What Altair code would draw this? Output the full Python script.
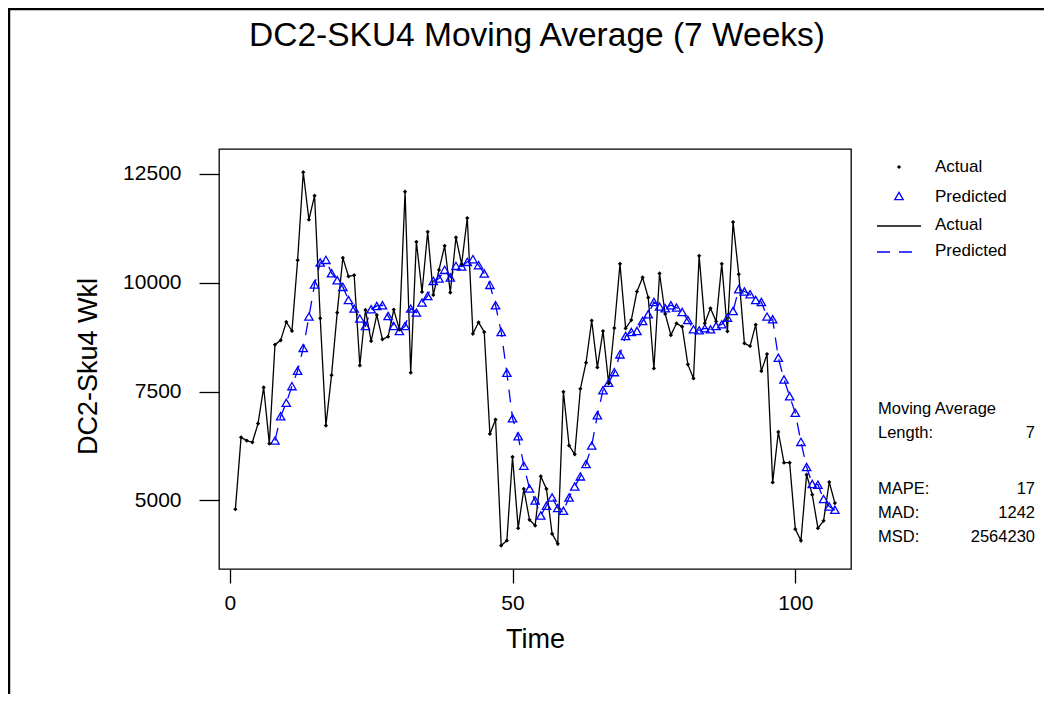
import altair as alt
import pandas as pd

FONT = "Liberation Sans"

# ---- data ----
time = list(range(1, 108))
actual = [
    4800, 6450, 6375, 6336, 6766, 7596, 6306, 8579, 8678, 9100,
    8893, 10520, 12540, 11449, 12001, 9185, 6720, 7879, 9316, 10573,
    10145, 10175, 8102, 9376, 8662, 9261, 8701, 8763, 9385, 8924,
    12093, 7934, 10942, 9790, 11172, 9721, 10297, 10850, 9776, 11043,
    10428, 11488, 8832, 9092, 8869, 6529, 6859, 3964, 4079, 5999,
    4364, 5263, 4556, 4424, 5553, 5263, 4233, 4003, 7496, 6260,
    6059, 7566, 8164, 9132, 8056, 8892, 7688, 8961, 10435, 8954,
    9145, 9800, 10122, 9661, 8033, 10214, 9284, 8800, 9069, 8993,
    8125, 7803, 10619, 9069, 9415, 9115, 10435, 8885, 11395, 10198,
    8609, 8547, 9039, 7971, 8362, 5415, 6575, 5868, 5868, 4341,
    4079, 5592, 5131, 4364, 4532, 5423, 4940,
]
pred_start = 8
predicted = [
    6375, 6934, 7243, 7626, 7980, 8501, 9224, 9961, 10467, 10527,
    10221, 10060, 9906, 9606, 9408, 9178, 9007, 9392, 9468, 9484,
    9237, 9007, 8892, 9007, 9408, 9316, 9546, 9698, 10044, 10099,
    10297, 10122, 10389, 10375, 10481, 10543, 10405, 10214, 9952, 9484,
    8869, 7934, 6888, 6474, 5799, 5276, 5000, 4655, 4878, 5069,
    4825, 4763, 5069, 5322, 5553, 5838, 6260, 6958, 7533, 7704,
    7948, 8356, 8777, 8869, 8892, 9123, 9277, 9560, 9454, 9415,
    9484, 9431, 9330, 9145, 8931, 8908, 8954, 8931, 9007, 9046,
    9200, 9353, 9852, 9800, 9737, 9606, 9560, 9224, 9162, 8279,
    7780, 7395, 7013, 6345, 5769, 5378, 5362, 5032, 4862, 4786,
]
x_ticks = [0, 50, 100]
y_ticks = [5000, 7500, 10000, 12500]
title_text = "DC2-SKU4 Moving Average (7 Weeks)"
x_title = "Time"
y_title = "DC2-Sku4 Wkl"
stats_labels = ["Length:", "MAPE:", "MAD:", "MSD:"]
stats_values = ["7", "17", "1242", "2564230"]

df_a = pd.DataFrame({"Time": time, "Value": actual})
df_p = pd.DataFrame({"Time": list(range(pred_start, pred_start + len(predicted))),
                     "Value": predicted})
one = pd.DataFrame({"k": [0]})

BLUE = "#0000FF"
xscale = alt.Scale(domain=[-1.9, 109.85], nice=False, zero=False)
yscale = alt.Scale(domain=[3425, 13074], nice=False, zero=False)

x_axis = alt.Axis(values=x_ticks, title=x_title, grid=False, domain=False, format="d",
                  tickSize=14, tickColor="black", tickWidth=1.3,
                  labelFont=FONT, labelFontSize=21, labelColor="black", labelPadding=9,
                  labelFlush=False,
                  titleFont=FONT, titleFontSize=27, titleFontWeight="normal",
                  titleColor="black", titleY=78, titleBaseline="alphabetic")
y_axis = alt.Axis(values=y_ticks, title=y_title, grid=False, domain=False, format="d",
                  tickSize=20, tickColor="black", tickWidth=1.3,
                  labelFont=FONT, labelFontSize=21, labelColor="black", labelPadding=18,
                  labelFlush=False,
                  titleFont=FONT, titleFontSize=27, titleFontWeight="normal",
                  titleColor="black", titleX=-123, titleY=217, titleAngle=270,
                  titleAlign="center", titleBaseline="alphabetic")

X = alt.X("Time:Q", scale=xscale, axis=x_axis)
Y = alt.Y("Value:Q", scale=yscale, axis=y_axis)

pred_line = alt.Chart(df_p).mark_line(color=BLUE, strokeWidth=1.3, strokeDash=[13, 9]).encode(x=X, y=Y)
pred_pts = alt.Chart(df_p).mark_point(shape="triangle-up", filled=False, color=BLUE,
                                      size=70, strokeWidth=1.3, opacity=1).encode(x=X, y=Y)
act_line = alt.Chart(df_a).mark_line(color="black", strokeWidth=1.3).encode(x=X, y=Y)
act_pts = alt.Chart(df_a).mark_point(shape="diamond", filled=True, color="black",
                                     size=18, opacity=1).encode(x=X, y=Y)

# ---- title, legend, statistics (pixel layout) ----
def txt(s, x, y, size=17, align="left"):
    return alt.Chart(one).mark_text(text=s, font=FONT, fontSize=size, align=align,
                                    baseline="middle", color="black").encode(
        x=alt.value(x), y=alt.value(y))

title = alt.Chart(one).mark_text(text=title_text, font=FONT, fontSize=33.5, align="center",
                                 baseline="alphabetic", color="black").encode(
    x=alt.value(318), y=alt.value(-103))

leg_dot = alt.Chart(one).mark_point(shape="diamond", filled=True, color="black", size=18,
                                    opacity=1).encode(x=alt.value(680), y=alt.value(18))
leg_tri = alt.Chart(one).mark_point(shape="triangle-up", filled=False, color=BLUE, size=70,
                                    strokeWidth=1.3, opacity=1).encode(x=alt.value(680), y=alt.value(47))
leg_solid = alt.Chart(one).mark_rule(color="black", strokeWidth=1.3).encode(
    x=alt.value(658), x2=alt.value(702), y=alt.value(77))
leg_dash = alt.Chart(one).mark_rule(color=BLUE, strokeWidth=1.3, strokeDash=[13, 9]).encode(
    x=alt.value(658), x2=alt.value(702), y=alt.value(103))
legend = [leg_dot, txt("Actual", 716, 18), leg_tri, txt("Predicted", 716, 48),
          leg_solid, txt("Actual", 716, 76), leg_dash, txt("Predicted", 716, 102)]

stats = [txt("Moving Average", 659, 260, 16.5)]
for lab, val, yy in zip(stats_labels, stats_values, [284, 340, 364, 388]):
    stats.append(txt(lab, 659, yy, 16.5))
    stats.append(txt(val, 816, yy, 16.5, align="right"))

border = alt.Chart(one).mark_rect(fill="transparent", stroke="black", strokeWidth=2.5).encode(
    x=alt.value(-210), x2=alt.value(900), y=alt.value(-140), y2=alt.value(700))

chart = alt.layer(
    pred_line, act_line, pred_pts, act_pts, title, *legend, *stats, border
).properties(
    width=632, height=420,
    autosize=alt.AutoSizeParams(type="none"),
    padding={"left": 211, "top": 141, "right": 193, "bottom": 125},
    background="white",
).configure_view(stroke="black", strokeWidth=1.3)

chart.save("out.html", embed_options={"renderer": "svg", "actions": False})
